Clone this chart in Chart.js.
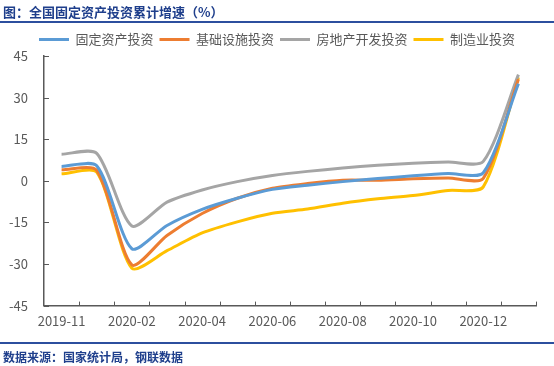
<!DOCTYPE html>
<html>
<head>
<meta charset="utf-8">
<script src="https://cdn.jsdelivr.net/npm/chart.js@4.4.1/dist/chart.umd.min.js"></script>
<style>
  html, body { margin: 0; padding: 0; background: #fff; }
  #wrap { position: relative; width: 554px; height: 366px; overflow: hidden; }
  #myChart { position: absolute; left: 0; top: 0; }
  .title {
    position: absolute; left: 3px; top: 2px;
    font: bold 13px "Noto Sans CJK SC", sans-serif; color: #1f3f8c;
  }
  .rule { position: absolute; left: 0; width: 554px; background: #2c4f9e; }
  .source {
    position: absolute; left: 3px; top: 348px;
    font: bold 12px "Noto Sans CJK SC", sans-serif; color: #1f3f8c;
  }
</style>
</head>
<body>
<div id="wrap">
  <canvas id="myChart" width="554" height="366"></canvas>
  <div class="title">图：全国固定资产投资累计增速（%）</div>
  <div class="rule" style="top:21px;height:2px"></div>
  <div class="rule" style="top:342px;height:2px"></div>
  <div class="source">数据来源：国家统计局，钢联数据</div>
</div>
<script>
// months (Jan is merged into Feb in the stats)
const months = ['2019-11', '2019-12', '2020-02', '2020-03', '2020-04', '2020-05', '2020-06',
  '2020-07', '2020-08', '2020-09', '2020-10', '2020-11', '2020-12', '2021-02'];

// cumulative yoy growth, %
const fixedAsset = [5.2, 5.4, -24.5, -16.1, -10.3, -6.3, -3.1, -1.6, -0.3, 0.8, 1.8, 2.6, 2.9, 35.0];
const infra = [4.0, 3.8, -30.3, -19.7, -11.8, -6.3, -2.7, -1.0, 0.2, 0.2, 0.7, 1.0, 0.9, 36.6];
const realEstate = [9.6, 9.9, -16.3, -7.7, -3.3, -0.3, 1.9, 3.4, 4.6, 5.6, 6.3, 6.8, 7.0, 38.3];
const manufacturing = [2.5, 3.1, -31.5, -25.2, -18.8, -14.8, -11.7, -10.2, -8.1, -6.5, -5.3, -3.5, -2.2, 37.3];

const seriesNames = ['固定资产投资', '基础设施投资', '房地产开发投资', '制造业投资'];
const yTicks = [-45, -30, -15, 0, 15, 30, 45];

const axisColor = '#595959';
const fontFamily = '"Noto Sans CJK SC", sans-serif';

// small tick marks pointing into the plot, like the original
const innerTicks = {
  id: 'innerTicks',
  afterDraw(chart) {
    const ctx = chart.ctx;
    const area = chart.chartArea;
    const x = chart.scales.x;
    const y = chart.scales.y;
    ctx.save();
    ctx.strokeStyle = axisColor;
    ctx.lineWidth = 1;
    ctx.beginPath();
    y.ticks.forEach((t, i) => {
      const py = Math.round(y.getPixelForTick(i)) + 0.5;
      ctx.moveTo(area.left, py);
      ctx.lineTo(area.left + 5, py);
    });
    const step = x.width / months.length;
    for (let i = 1; i <= months.length; i++) {
      const px = Math.round(x.left + i * step) + 0.5;
      ctx.moveTo(px, area.bottom);
      ctx.lineTo(px, area.bottom - 4);
    }
    ctx.stroke();
    ctx.restore();
  }
};

function makeSet(label, data, color) {
  return {
    label: label,
    data: data,
    borderColor: color,
    backgroundColor: color,
    borderWidth: 3,
    pointRadius: 0,
    tension: 0.25,
    fill: false
  };
}

const ctx = document.getElementById('myChart').getContext('2d');
const chart = new Chart(ctx, {
  type: 'line',
  data: {
    labels: months,
    datasets: [
      makeSet(seriesNames[0], fixedAsset, '#5B9BD5'),
      makeSet(seriesNames[1], infra, '#ED7D31'),
      makeSet(seriesNames[2], realEstate, '#A5A5A5'),
      makeSet(seriesNames[3], manufacturing, '#FFC000')
    ]
  },
  options: {
    responsive: false,
    animation: false,
    layout: { padding: { top: 27, left: 0, right: 0, bottom: 30 } },
    plugins: {
      tooltip: { enabled: false },
      legend: {
        position: 'top',
        labels: {
          usePointStyle: true,
          pointStyle: 'line',
          pointStyleWidth: 30,
          padding: 6,
          color: axisColor,
          font: { family: fontFamily, size: 13 }
        }
      }
    },
    scales: {
      x: {
        offset: true,
        grid: { display: false, offset: true },
        border: { display: true, color: axisColor, width: 1.5 },
        ticks: {
          autoSkip: false,
          maxRotation: 0,
          padding: 0,
          color: axisColor,
          font: { family: fontFamily, size: 13 },
          callback: function(v, i) { return i % 2 === 0 ? months[i] : ''; }
        },
        afterFit: function(scale) { scale.height = 30.4; }
      },
      y: {
        min: -45,
        max: 45,
        afterBuildTicks: function(scale) { scale.ticks = yTicks.map(v => ({ value: v })); },
        grid: { display: false },
        border: { display: true, color: axisColor, width: 1.5 },
        ticks: {
          padding: 8,
          color: axisColor,
          font: { family: fontFamily, size: 13 }
        },
        afterFit: function(scale) { scale.width = 44; }
      },
      // empty right-hand margin so the legend stays centred on the page
      spacer: {
        position: 'right',
        display: true,
        grid: { display: false },
        border: { display: false },
        ticks: { display: false },
        afterFit: function(scale) { scale.width = 18; }
      }
    }
  },
  plugins: [innerTicks]
});
</script>
</body>
</html>
